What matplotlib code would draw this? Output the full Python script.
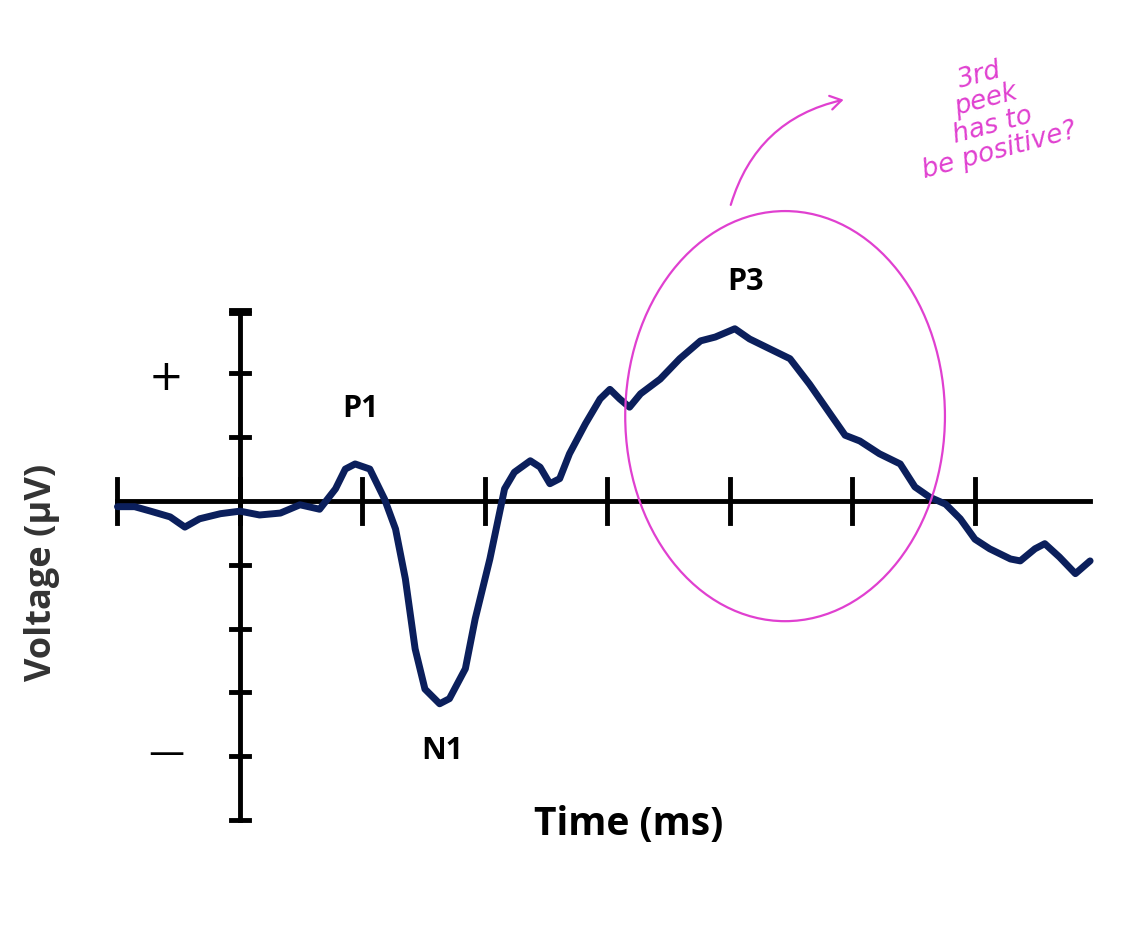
import matplotlib
matplotlib.use("Agg")
import matplotlib.pyplot as plt
from matplotlib.patches import Ellipse, FancyArrowPatch
import numpy as np

time_ms = [-100,-86,-73,-57,-45,-33,-16,0,16,33,49,65,78,86,94,106,118,127,135,143,151,163,171,184,192,204,216,224,237,245,253,261,269,282,294,302,310,318,327,343,359,376,388,404,416,433,449,465,482,494,506,522,539,551,563,576,588,600,612,629,637,649,657,669,682,694]
voltage = [-0.09,-0.09,-0.16,-0.25,-0.41,-0.28,-0.20,-0.16,-0.22,-0.19,-0.06,-0.13,0.19,0.50,0.58,0.50,0.03,-0.44,-1.22,-2.32,-2.95,-3.18,-3.10,-2.63,-1.85,-0.91,0.19,0.45,0.63,0.53,0.27,0.35,0.74,1.21,1.60,1.75,1.60,1.47,1.68,1.91,2.23,2.51,2.57,2.70,2.54,2.38,2.23,1.83,1.36,1.03,0.94,0.74,0.58,0.22,0.06,-0.05,-0.28,-0.60,-0.75,-0.91,-0.94,-0.75,-0.67,-0.88,-1.14,-0.94]
x_ticks = [-100,0,100,200,300,400,500,600]
y_ticks = [-4,-3,-2,-1,0,1,2,3]

fig = plt.figure(figsize=(11.44,9.28), dpi=100)
ax = fig.add_axes([0,0,1,1])
ax.set_xlim(-195.9, 738.0)
ax.set_ylim(-6.68, 7.87)
ax.axis('off')

# axes
ax.plot([-100, 694], [0, 0], color='black', lw=3.5, zorder=2)
ax.plot([0, 0], [-5.0, 2.95], color='black', lw=3.5, zorder=2)
for t in x_ticks:
    ax.plot([t, t], [-0.35, 0.35], color='black', lw=3.5, zorder=2)
for v in y_ticks + [-5, 2.95]:
    if v != 0:
        ax.plot([-7, 7], [v, v], color='black', lw=3.5, zorder=2)

ax.plot(time_ms, voltage, color='#0b1f5c', lw=5, zorder=3, solid_capstyle='round')

bold = dict(fontsize=22, fontweight='bold', family='Open Sans', ha='center', va='center')
ax.text(98, 1.45, 'P1', **bold)
ax.text(165, -3.9, 'N1', **bold)
ax.text(413, 3.45, 'P3', **bold)
ax.text(317, -5.05, 'Time (ms)', fontsize=28, fontweight='bold', family='Open Sans', ha='center', va='center')
ax.text(-162, -1.1, 'Voltage (µV)', fontsize=26, fontweight='bold', family='Open Sans',
        ha='center', va='center', rotation=90, color='#333333')
ax.text(-60, 1.95, '+', fontsize=30, ha='center', va='center')
ax.text(-60, -3.95, '—', fontsize=26, ha='center', va='center')

mag = '#e040d0'
ax.add_patch(Ellipse((445, 1.33), 261, 6.43, fill=False, ec=mag, lw=1.6, zorder=4))
ax.add_patch(FancyArrowPatch((400, 4.6), (495, 6.3), connectionstyle='arc3,rad=-0.3',
                             arrowstyle='->,head_length=8,head_width=5', color=mag, lw=1.6))
ax.text(612, 6.1, '3rd\npeek\nhas to\nbe positive?', color=mag, fontsize=19, fontstyle='italic',
        rotation=15, ha='center', va='center', linespacing=1.0)
fig.savefig('out.png', dpi=100)
